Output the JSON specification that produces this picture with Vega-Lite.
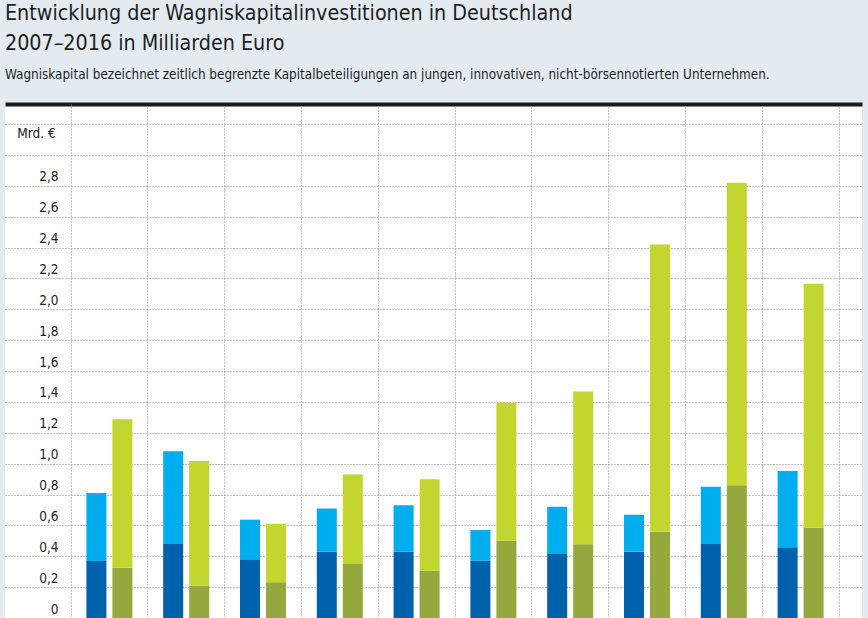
{
  "$schema": "https://vega.github.io/schema/vega-lite/v6.json",
  "width": 857,
  "height": 514,
  "autosize": {"type": "none"},
  "padding": {"left": 5, "right": 6, "top": 104, "bottom": 0},
  "background": "#e3ebf1",
  "view": {"fill": "#ffffff", "stroke": null},
  "title": {
    "text": ["Entwicklung der Wagniskapitalinvestitionen in Deutschland", "2007–2016 in Milliarden Euro"],
    "subtitle": "Wagniskapital bezeichnet zeitlich begrenzte Kapitalbeteiligungen an jungen, innovativen, nicht-börsennotierten Unternehmen.",
    "anchor": "start",
    "frame": "group",
    "font": "DejaVu Sans Condensed",
    "fontSize": 21.3,
    "fontWeight": "normal",
    "lineHeight": 30,
    "color": "#1e1e1e",
    "subtitleFont": "DejaVu Sans Condensed",
    "subtitleFontSize": 13.4,
    "subtitleColor": "#1e1e1e",
    "subtitlePadding": 13,
    "offset": 23
  },
  "data": {
    "values": [
      {"Jahr": "2007", "Gruppe": "A", "Teil": "unten", "Reihe": "A unten", "Wert": 0.37},
      {"Jahr": "2007", "Gruppe": "A", "Teil": "oben", "Reihe": "A oben", "Wert": 0.44},
      {"Jahr": "2007", "Gruppe": "B", "Teil": "unten", "Reihe": "B unten", "Wert": 0.325},
      {"Jahr": "2007", "Gruppe": "B", "Teil": "oben", "Reihe": "B oben", "Wert": 0.962},
      {"Jahr": "2008", "Gruppe": "A", "Teil": "unten", "Reihe": "A unten", "Wert": 0.48},
      {"Jahr": "2008", "Gruppe": "A", "Teil": "oben", "Reihe": "A oben", "Wert": 0.60},
      {"Jahr": "2008", "Gruppe": "B", "Teil": "unten", "Reihe": "B unten", "Wert": 0.21},
      {"Jahr": "2008", "Gruppe": "B", "Teil": "oben", "Reihe": "B oben", "Wert": 0.807},
      {"Jahr": "2009", "Gruppe": "A", "Teil": "unten", "Reihe": "A unten", "Wert": 0.38},
      {"Jahr": "2009", "Gruppe": "A", "Teil": "oben", "Reihe": "A oben", "Wert": 0.257},
      {"Jahr": "2009", "Gruppe": "B", "Teil": "unten", "Reihe": "B unten", "Wert": 0.232},
      {"Jahr": "2009", "Gruppe": "B", "Teil": "oben", "Reihe": "B oben", "Wert": 0.379},
      {"Jahr": "2010", "Gruppe": "A", "Teil": "unten", "Reihe": "A unten", "Wert": 0.43},
      {"Jahr": "2010", "Gruppe": "A", "Teil": "oben", "Reihe": "A oben", "Wert": 0.28},
      {"Jahr": "2010", "Gruppe": "B", "Teil": "unten", "Reihe": "B unten", "Wert": 0.35},
      {"Jahr": "2010", "Gruppe": "B", "Teil": "oben", "Reihe": "B oben", "Wert": 0.579},
      {"Jahr": "2011", "Gruppe": "A", "Teil": "unten", "Reihe": "A unten", "Wert": 0.43},
      {"Jahr": "2011", "Gruppe": "A", "Teil": "oben", "Reihe": "A oben", "Wert": 0.301},
      {"Jahr": "2011", "Gruppe": "B", "Teil": "unten", "Reihe": "B unten", "Wert": 0.308},
      {"Jahr": "2011", "Gruppe": "B", "Teil": "oben", "Reihe": "B oben", "Wert": 0.591},
      {"Jahr": "2012", "Gruppe": "A", "Teil": "unten", "Reihe": "A unten", "Wert": 0.37},
      {"Jahr": "2012", "Gruppe": "A", "Teil": "oben", "Reihe": "A oben", "Wert": 0.20},
      {"Jahr": "2012", "Gruppe": "B", "Teil": "unten", "Reihe": "B unten", "Wert": 0.501},
      {"Jahr": "2012", "Gruppe": "B", "Teil": "oben", "Reihe": "B oben", "Wert": 0.893},
      {"Jahr": "2013", "Gruppe": "A", "Teil": "unten", "Reihe": "A unten", "Wert": 0.419},
      {"Jahr": "2013", "Gruppe": "A", "Teil": "oben", "Reihe": "A oben", "Wert": 0.301},
      {"Jahr": "2013", "Gruppe": "B", "Teil": "unten", "Reihe": "B unten", "Wert": 0.477},
      {"Jahr": "2013", "Gruppe": "B", "Teil": "oben", "Reihe": "B oben", "Wert": 0.99},
      {"Jahr": "2014", "Gruppe": "A", "Teil": "unten", "Reihe": "A unten", "Wert": 0.43},
      {"Jahr": "2014", "Gruppe": "A", "Teil": "oben", "Reihe": "A oben", "Wert": 0.239},
      {"Jahr": "2014", "Gruppe": "B", "Teil": "unten", "Reihe": "B unten", "Wert": 0.559},
      {"Jahr": "2014", "Gruppe": "B", "Teil": "oben", "Reihe": "B oben", "Wert": 1.861},
      {"Jahr": "2015", "Gruppe": "A", "Teil": "unten", "Reihe": "A unten", "Wert": 0.48},
      {"Jahr": "2015", "Gruppe": "A", "Teil": "oben", "Reihe": "A oben", "Wert": 0.37},
      {"Jahr": "2015", "Gruppe": "B", "Teil": "unten", "Reihe": "B unten", "Wert": 0.86},
      {"Jahr": "2015", "Gruppe": "B", "Teil": "oben", "Reihe": "B oben", "Wert": 1.96},
      {"Jahr": "2016", "Gruppe": "A", "Teil": "unten", "Reihe": "A unten", "Wert": 0.458},
      {"Jahr": "2016", "Gruppe": "A", "Teil": "oben", "Reihe": "A oben", "Wert": 0.495},
      {"Jahr": "2016", "Gruppe": "B", "Teil": "unten", "Reihe": "B unten", "Wert": 0.585},
      {"Jahr": "2016", "Gruppe": "B", "Teil": "oben", "Reihe": "B oben", "Wert": 1.581}
    ]
  },
  "mark": {"type": "bar"},
  "encoding": {
    "x": {
      "field": "Jahr",
      "type": "nominal",
      "scale": {"paddingInner": 0, "paddingOuter": 0.5794, "align": 0.7416},
      "axis": {
        "orient": "top",
        "title": null,
        "labels": false,
        "ticks": false,
        "domain": true,
        "domainColor": "#1a1a1a",
        "domainWidth": 4,
        "grid": true,
        "bandPosition": 1,
        "gridColor": "#8c8c8c",
        "gridDash": [1, 2],
        "gridWidth": 1
      }
    },
    "xOffset": {
      "field": "Gruppe",
      "type": "nominal",
      "scale": {"paddingInner": 0.23, "paddingOuter": 0.592}
    },
    "y": {
      "field": "Wert",
      "type": "quantitative",
      "stack": "zero",
      "scale": {"domain": [0, 3.33], "nice": false, "zero": true},
      "axis": {
        "orient": "left",
        "offset": -66,
        "values": [0, 0.2, 0.4, 0.6, 0.8, 1.0, 1.2, 1.4, 1.6, 1.8, 2.0, 2.2, 2.4, 2.6, 2.8, 3.0, 3.2],
        "labelExpr": "datum.value > 2.85 ? '' : (datum.value == 0 ? '0' : replace(format(datum.value, '.1f'), '.', ','))",
        "labelFont": "DejaVu Sans Condensed",
        "labelFontSize": 13.5,
        "labelColor": "#1e1e1e",
        "labelAlign": "right",
        "labelBaseline": "middle",
        "labelOffset": -9,
        "labelPadding": 13,
        "tickSize": 0,
        "ticks": false,
        "domain": true,
        "domainColor": "#8c8c8c",
        "domainDash": [1, 2],
        "domainWidth": 1,
        "grid": true,
        "gridColor": "#8c8c8c",
        "gridDash": [1, 2],
        "gridWidth": 1,
        "title": "Mrd. €",
        "titleFont": "DejaVu Sans Condensed",
        "titleFontSize": 13.5,
        "titleFontWeight": "normal",
        "titleColor": "#1e1e1e",
        "titleAngle": 0,
        "titleAlign": "center",
        "titleBaseline": "middle",
        "titleX": -35,
        "titleY": 29
      }
    },
    "color": {
      "field": "Reihe",
      "type": "nominal",
      "scale": {
        "domain": ["A unten", "A oben", "B unten", "B oben"],
        "range": ["#0062ad", "#00aeef", "#95a83e", "#c2d62f"]
      },
      "legend": null
    },
    "order": {"field": "Teil", "sort": "descending"}
  }
}
